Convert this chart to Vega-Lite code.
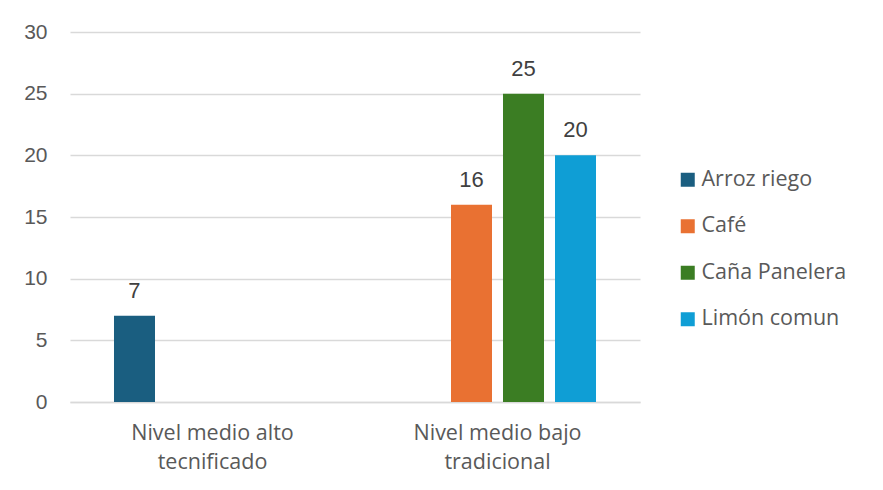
{
  "$schema": "https://vega.github.io/schema/vega-lite/v6.json",
  "autosize": "none",
  "width": 570,
  "height": 370,
  "padding": {"left": 70, "top": 32, "right": 243, "bottom": 88},
  "background": "white",
  "config": {
    "view": {"stroke": null},
    "font": "Open Sans"
  },
  "data": {
    "values": [
      {"nivel": "Nivel medio alto tecnificado", "cultivo": "Arroz riego", "valor": 7},
      {"nivel": "Nivel medio bajo tradicional", "cultivo": "Café", "valor": 16},
      {"nivel": "Nivel medio bajo tradicional", "cultivo": "Caña Panelera", "valor": 25},
      {"nivel": "Nivel medio bajo tradicional", "cultivo": "Limón comun", "valor": 20}
    ]
  },
  "encoding": {
    "x": {
      "field": "nivel",
      "type": "nominal",
      "sort": ["Nivel medio alto tecnificado", "Nivel medio bajo tradicional"],
      "scale": {"domain": ["Nivel medio alto tecnificado", "Nivel medio bajo tradicional"], "paddingInner": 0, "paddingOuter": 0},
      "axis": {
        "title": null,
        "labelAngle": 0,
        "labelExpr": "datum.label == 'Nivel medio alto tecnificado' ? ['Nivel medio alto', 'tecnificado'] : ['Nivel medio bajo', 'tradicional']",
        "labelFontSize": 21.5,
        "labelColor": "#595959",
        "labelFont": "Open Sans",
        "labelLineHeight": 29,
        "labelPadding": 20,
        "ticks": false,
        "domainColor": "#d9d9d9",
        "domainWidth": 1.5
      }
    },
    "xOffset": {
      "field": "cultivo",
      "type": "nominal",
      "scale": {"domain": ["Arroz riego", "Café", "Caña Panelera", "Limón comun"], "paddingInner": 0.2115, "paddingOuter": 0.846}
    },
    "y": {
      "field": "valor",
      "type": "quantitative",
      "scale": {"domain": [0, 30]},
      "axis": {
        "title": null,
        "values": [0, 5, 10, 15, 20, 25, 30],
        "labelFontSize": 21,
        "labelColor": "#595959",
        "labelFont": "Liberation Sans",
        "labelPadding": 23,
        "ticks": false,
        "domain": false,
        "gridColor": "#d9d9d9",
        "gridWidth": 1.5
      }
    }
  },
  "layer": [
    {
      "mark": {"type": "bar"},
      "encoding": {
        "color": {
          "field": "cultivo",
          "type": "nominal",
          "scale": {"domain": ["Arroz riego", "Café", "Caña Panelera", "Limón comun"], "range": ["#1A5E80", "#E97132", "#3B7D23", "#0F9ED5"]},
          "legend": {
            "title": null,
            "orient": "none",
            "legendX": 607,
            "legendY": 137,
            "symbolType": "square",
            "symbolSize": 196,
            "symbolStrokeWidth": 0,
            "symbolOpacity": 1,
            "labelFontSize": 21.5,
            "labelColor": "#595959",
            "labelFont": "Open Sans",
            "labelOffset": 3,
            "rowPadding": 23.5
          }
        }
      }
    },
    {
      "mark": {"type": "text", "baseline": "bottom", "dy": -13, "fontSize": 22, "color": "#404040", "font": "Liberation Sans"},
      "encoding": {
        "text": {"field": "valor", "type": "quantitative"}
      }
    }
  ]
}
